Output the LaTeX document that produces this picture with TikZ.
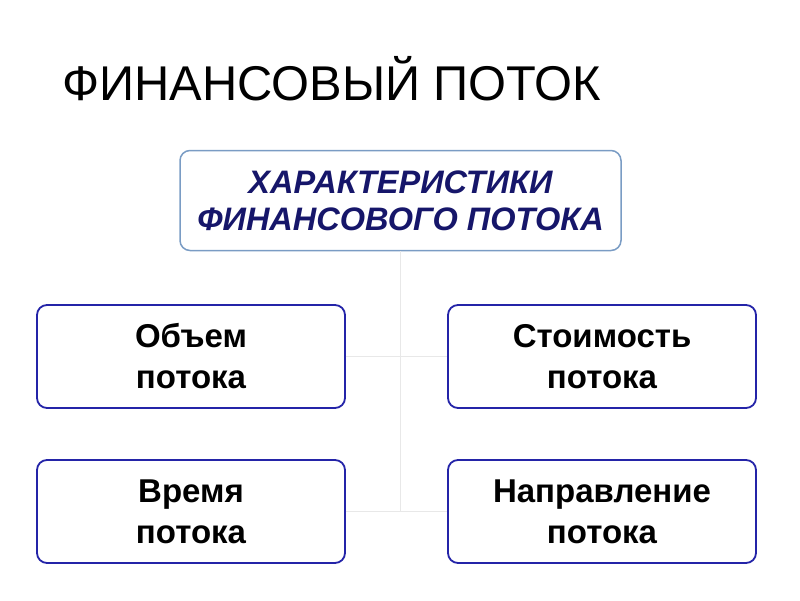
\documentclass[tikz,border=0pt]{standalone}
\usepackage{fontspec}
\setmainfont{Liberation Sans}
\begin{document}
\begin{tikzpicture}[x=1pt,y=-1pt,
  smallbox/.style={draw=boxblue, line width=1.8pt, rounded corners=10pt, minimum width=308pt, minimum height=103pt, align=center, inner sep=0pt, font=\fontsize{33}{43}\selectfont\bfseries, text=black},
  topbox/.style={draw=topedge, line width=1.5pt, rounded corners=10pt, minimum width=441pt, minimum height=100pt, align=center, inner sep=0pt, font=\fontsize{32.5}{37}\selectfont\bfseries\itshape, text=navytext},
  conn/.style={draw=linegray, line width=1.2pt, sharp corners}]
\definecolor{boxblue}{HTML}{2424A8}
\definecolor{topedge}{HTML}{7A9CC4}
\definecolor{navytext}{HTML}{16166A}
\definecolor{linegray}{HTML}{E8E8E8}
\useasboundingbox (0,0) rectangle (800,600);
\node[anchor=base west, inner sep=0pt, font=\fontsize{48.8}{60}\selectfont] (title) at (62,100) {ФИНАНСОВЫЙ ПОТОК};
\node[topbox] (top) at (400.5,200.5) {ХАРАКТЕРИСТИКИ\\ФИНАНСОВОГО ПОТОКА};
\node[smallbox] (l1) at (191,356.5) {\raisebox{-2pt}{Объем}\\потока};
\node[smallbox] (r1) at (602,356.5) {\raisebox{-2pt}{Стоимость}\\потока};
\node[smallbox] (l2) at (191,511.5) {\raisebox{-2pt}{Время}\\потока};
\node[smallbox] (r2) at (602,511.5) {\raisebox{-2pt}{Направление}\\потока};
\coordinate (j2) at (top.south |- l2.east);
\draw[conn] (top.south) -- (j2);
\draw[conn] (l1.east) -- (r1.west);
\draw[conn] (l2.east) -- (r2.west);
\end{tikzpicture}
\end{document}
